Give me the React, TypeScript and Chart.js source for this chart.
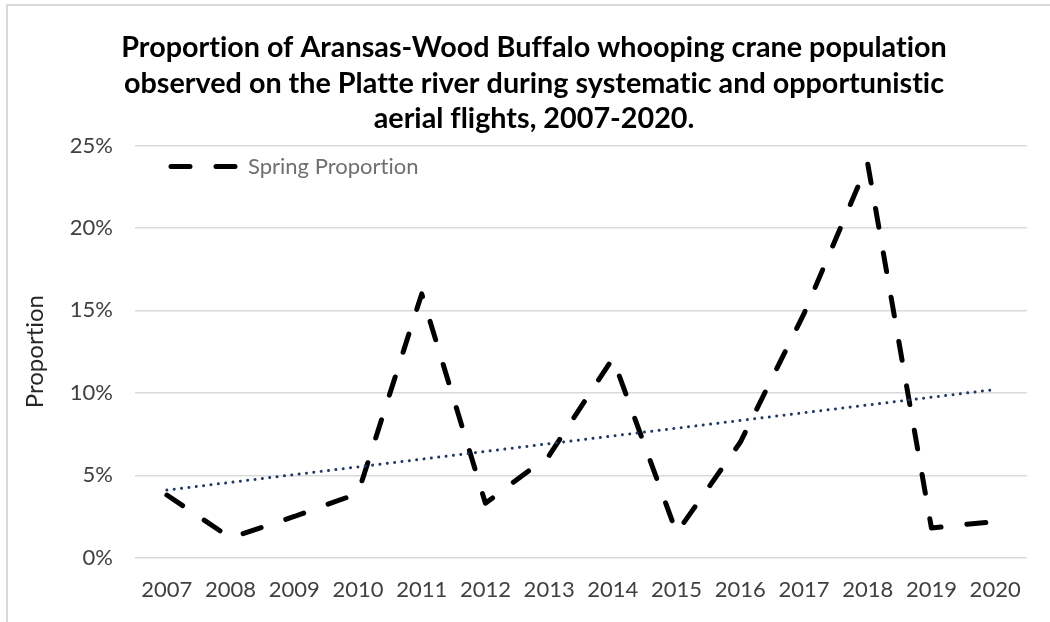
import React, { useEffect, useRef } from "react";
import { Chart, registerables } from "chart.js";

Chart.register(...registerables);

const years = ["2007", "2008", "2009", "2010", "2011", "2012", "2013", "2014", "2015", "2016", "2017", "2018", "2019", "2020"];
const springProportion = [3.8, 1.2, 2.5, 3.9, 16.0, 3.3, 6.2, 12.1, 1.5, 7.0, 14.8, 23.9, 1.8, 2.2];
const trendEndpoints: (number | null)[] = [4.1, null, null, null, null, null, null, null, null, null, null, null, null, 10.2];
const yTicks = [0, 5, 10, 15, 20, 25];
const titleLines = [
  "Proportion of Aransas-Wood Buffalo whooping crane population",
  "observed on the Platte river during systematic and opportunistic",
  "aerial flights, 2007-2020.",
];
const seriesLabel = "Spring Proportion";
const trendLabel = "Linear (Spring Proportion)";
const axisTitle = "Proportion";

const FONT = "Lato, 'Open Sans', sans-serif";
const SERIES_DASH = [19, 26];

const framePlugin = {
  id: "frame",
  beforeDraw(chart: any) {
    const ctx = chart.ctx;
    ctx.fillStyle = "#ffffff";
    ctx.fillRect(0, 0, chart.width, chart.height);
    try {
      ctx.textRendering = "optimizeSpeed";
    } catch (e) {}
    const lg = chart.legend;
    const ca = chart.chartArea;
    if (lg && ca) {
      lg.left = ca.left;
      lg.right = ca.right;
      lg.top = ca.top;
      lg.bottom = ca.bottom;
      lg.width = ca.right - ca.left;
      lg.height = ca.bottom - ca.top;
    }
  },
  afterDraw(chart: any) {
    const ctx = chart.ctx;
    ctx.save();
    ctx.fillStyle = "#d9d9d9";
    ctx.fillRect(6, 4, chart.width - 6, 2);
    ctx.fillRect(6, 4, 2, chart.height - 4);
    ctx.restore();
  },
};

export default function App() {
  const canvasRef = useRef<HTMLCanvasElement | null>(null);

  useEffect(() => {
    if (!canvasRef.current) return;
    const chart = new Chart(canvasRef.current, {
      type: "line",
      data: {
        labels: years,
        datasets: [
          {
            label: seriesLabel,
            data: springProportion,
            borderColor: "#000000",
            backgroundColor: "#000000",
            borderWidth: 5,
            borderDash: SERIES_DASH,
            borderCapStyle: "round",
            borderJoinStyle: "round",
            pointRadius: 0,
            tension: 0,
            fill: false,
            order: 1,
          },
          {
            label: trendLabel,
            data: trendEndpoints,
            borderColor: "#203864",
            backgroundColor: "#203864",
            borderWidth: 3,
            borderDash: [0.001, 7.4],
            borderCapStyle: "round",
            pointRadius: 0,
            spanGaps: true,
            tension: 0,
            fill: false,
            order: 0,
          },
        ],
      },
      options: {
        responsive: false,
        animation: false,
        devicePixelRatio: 1,
        layout: { padding: { top: 4, left: 41, right: 23, bottom: 19 } },
        plugins: {
          tooltip: { enabled: false },
          title: {
            display: true,
            text: titleLines,
            color: "#000000",
            font: { family: FONT, size: 28.75, weight: "bold", lineHeight: 35.5 / 28.75 },
            padding: { top: 26, bottom: 9 },
          },
          legend: {
            display: true,
            position: "chartArea",
            align: "start",
            labels: {
              usePointStyle: true,
              pointStyle: "line",
              pointStyleWidth: 92,
              padding: 10,
              color: "#6f6f6f",
              font: { family: FONT, size: 22 },
              filter: (item: any) => item.datasetIndex === 0,
              generateLabels: (c: any) =>
                (Chart.defaults.plugins.legend.labels as any).generateLabels(c).map((l: any) => ({
                  ...l,
                  strokeStyle: "#000000",
                  fillStyle: "#000000",
                  lineDash: SERIES_DASH,
                  lineDashOffset: 19,
                  lineCap: "round",
                  lineWidth: 5,
                })),
            },
          },
        },
        scales: {
          x: {
            type: "category",
            offset: true,
            grid: { display: false, drawTicks: false },
            border: { display: false },
            afterFit: (s: any) => {
              s.height = 45.3;
            },
            ticks: {
              padding: 19,
              color: "#404040",
              font: { family: FONT, size: 22 },
              maxRotation: 0,
              autoSkip: false,
            },
          },
          y: {
            min: 0,
            max: 25,
            afterBuildTicks: (s: any) => {
              s.ticks = yTicks.map((v) => ({ value: v }));
            },
            afterFit: (s: any) => {
              s.width = 94;
            },
            border: { display: false },
            grid: { color: "#d9d9d9", lineWidth: 1.5, drawTicks: false },
            ticks: {
              padding: 22,
              color: "#404040",
              font: { family: FONT, size: 22 },
              callback: (v: any) => v + "%",
            },
            title: {
              display: true,
              text: axisTitle,
              color: "#262626",
              font: { family: FONT, size: 24 },
              padding: { top: -20.4, bottom: 0 },
            },
          },
        },
      },
      plugins: [framePlugin],
    } as any);
    return () => chart.destroy();
  }, []);

  return (
    <div style={{ position: "absolute", left: 0, top: 0, width: 1050, height: 622 }}>
      <canvas ref={canvasRef} width={1050} height={622} style={{ display: "block" }} />
    </div>
  );
}
